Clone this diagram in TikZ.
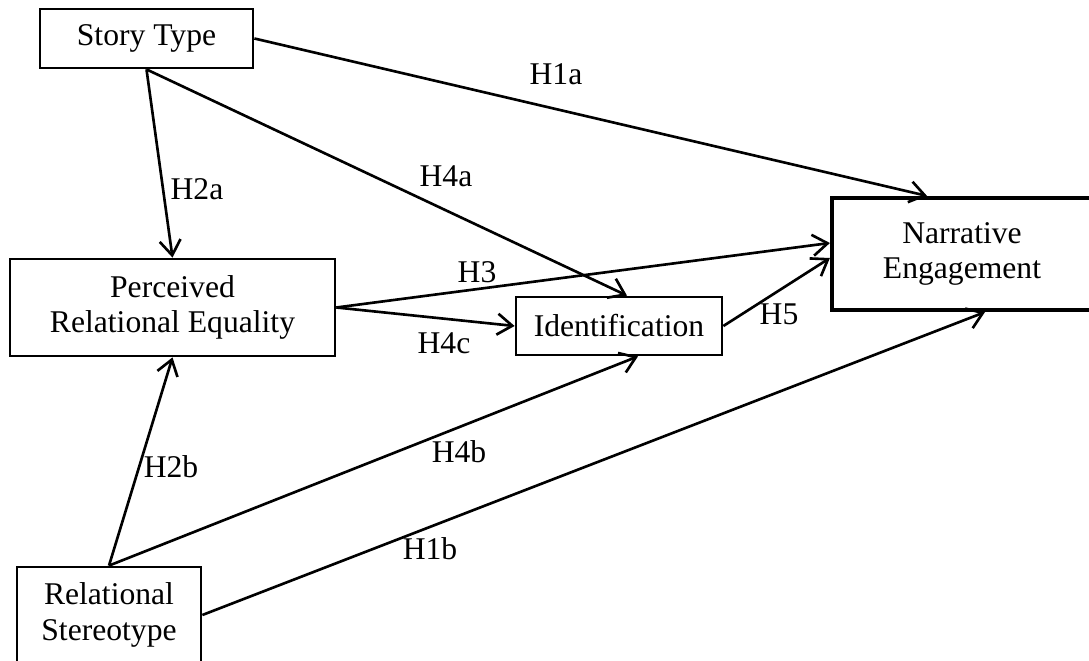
\documentclass[tikz,border=0pt]{standalone}
\usepackage{fontspec}
\setmainfont{Liberation Serif}
\usetikzlibrary{arrows.meta}
\begin{document}
\begin{tikzpicture}[x=0.02cm,y=-0.02cm,>={Straight Barb[length=.3cm,width=.42cm]},
  var/.style={draw,line width=1.6pt,align=center,inner sep=0pt,font=\fontsize{18}{20.4}\selectfont},
  path/.style={->,line width=1.5pt},
  hyp/.style={inner sep=0pt,font=\fontsize{18}{20.4}\selectfont}]
\useasboundingbox (0,0) rectangle (1089,661);
% variables
\node[var,minimum width=4.26cm,minimum height=1.18cm] (story) at (146.5,38.5) {Story Type};
\node[var,minimum width=6.5cm,minimum height=1.94cm] (per) at (172.5,307.5) {Perceived\\Relational Equality};
\node[var,minimum width=4.12cm,minimum height=1.16cm] (idf) at (619,326) {Identification};
\node[var,line width=2.4pt,minimum width=5.2cm,minimum height=2.24cm] (ne) at (962,254) {Narrative\\Engagement};
\node[var,minimum width=3.68cm,minimum height=1.92cm] (rel) at (109,615) {Relational\\Stereotype};
% paths
\draw[path] (story.south) -- (per.north);
\draw[path] (story.south) -- ([xshift=.16cm]idf.north);
\draw[path] (story.east) -- ([xshift=-.7cm]ne.north);
\draw[path] (per.east) -- ([yshift=.22cm]ne.west);
\draw[path] (per.east) -- (idf.west);
\draw[path] (idf.east) -- ([yshift=-.08cm]ne.west);
\draw[path] (rel.north) -- (per.south);
\draw[path] (rel.north) -- ([xshift=.38cm]idf.south);
\draw[path] (rel.east) -- ([xshift=.46cm]ne.south);
% hypotheses
\node[hyp] (h1a) at (556,74) {H1a};
\node[hyp] (h2a) at (197,189) {H2a};
\node[hyp] (h4a) at (446,176) {H4a};
\node[hyp] (h3) at (477,272) {H3};
\node[hyp] (h4c) at (444,343) {H4c};
\node[hyp] (h5) at (779,314) {H5};
\node[hyp] (h2b) at (171,467) {H2b};
\node[hyp] (h4b) at (459,452) {H4b};
\node[hyp] (h1b) at (430,549) {H1b};
\end{tikzpicture}
\end{document}
